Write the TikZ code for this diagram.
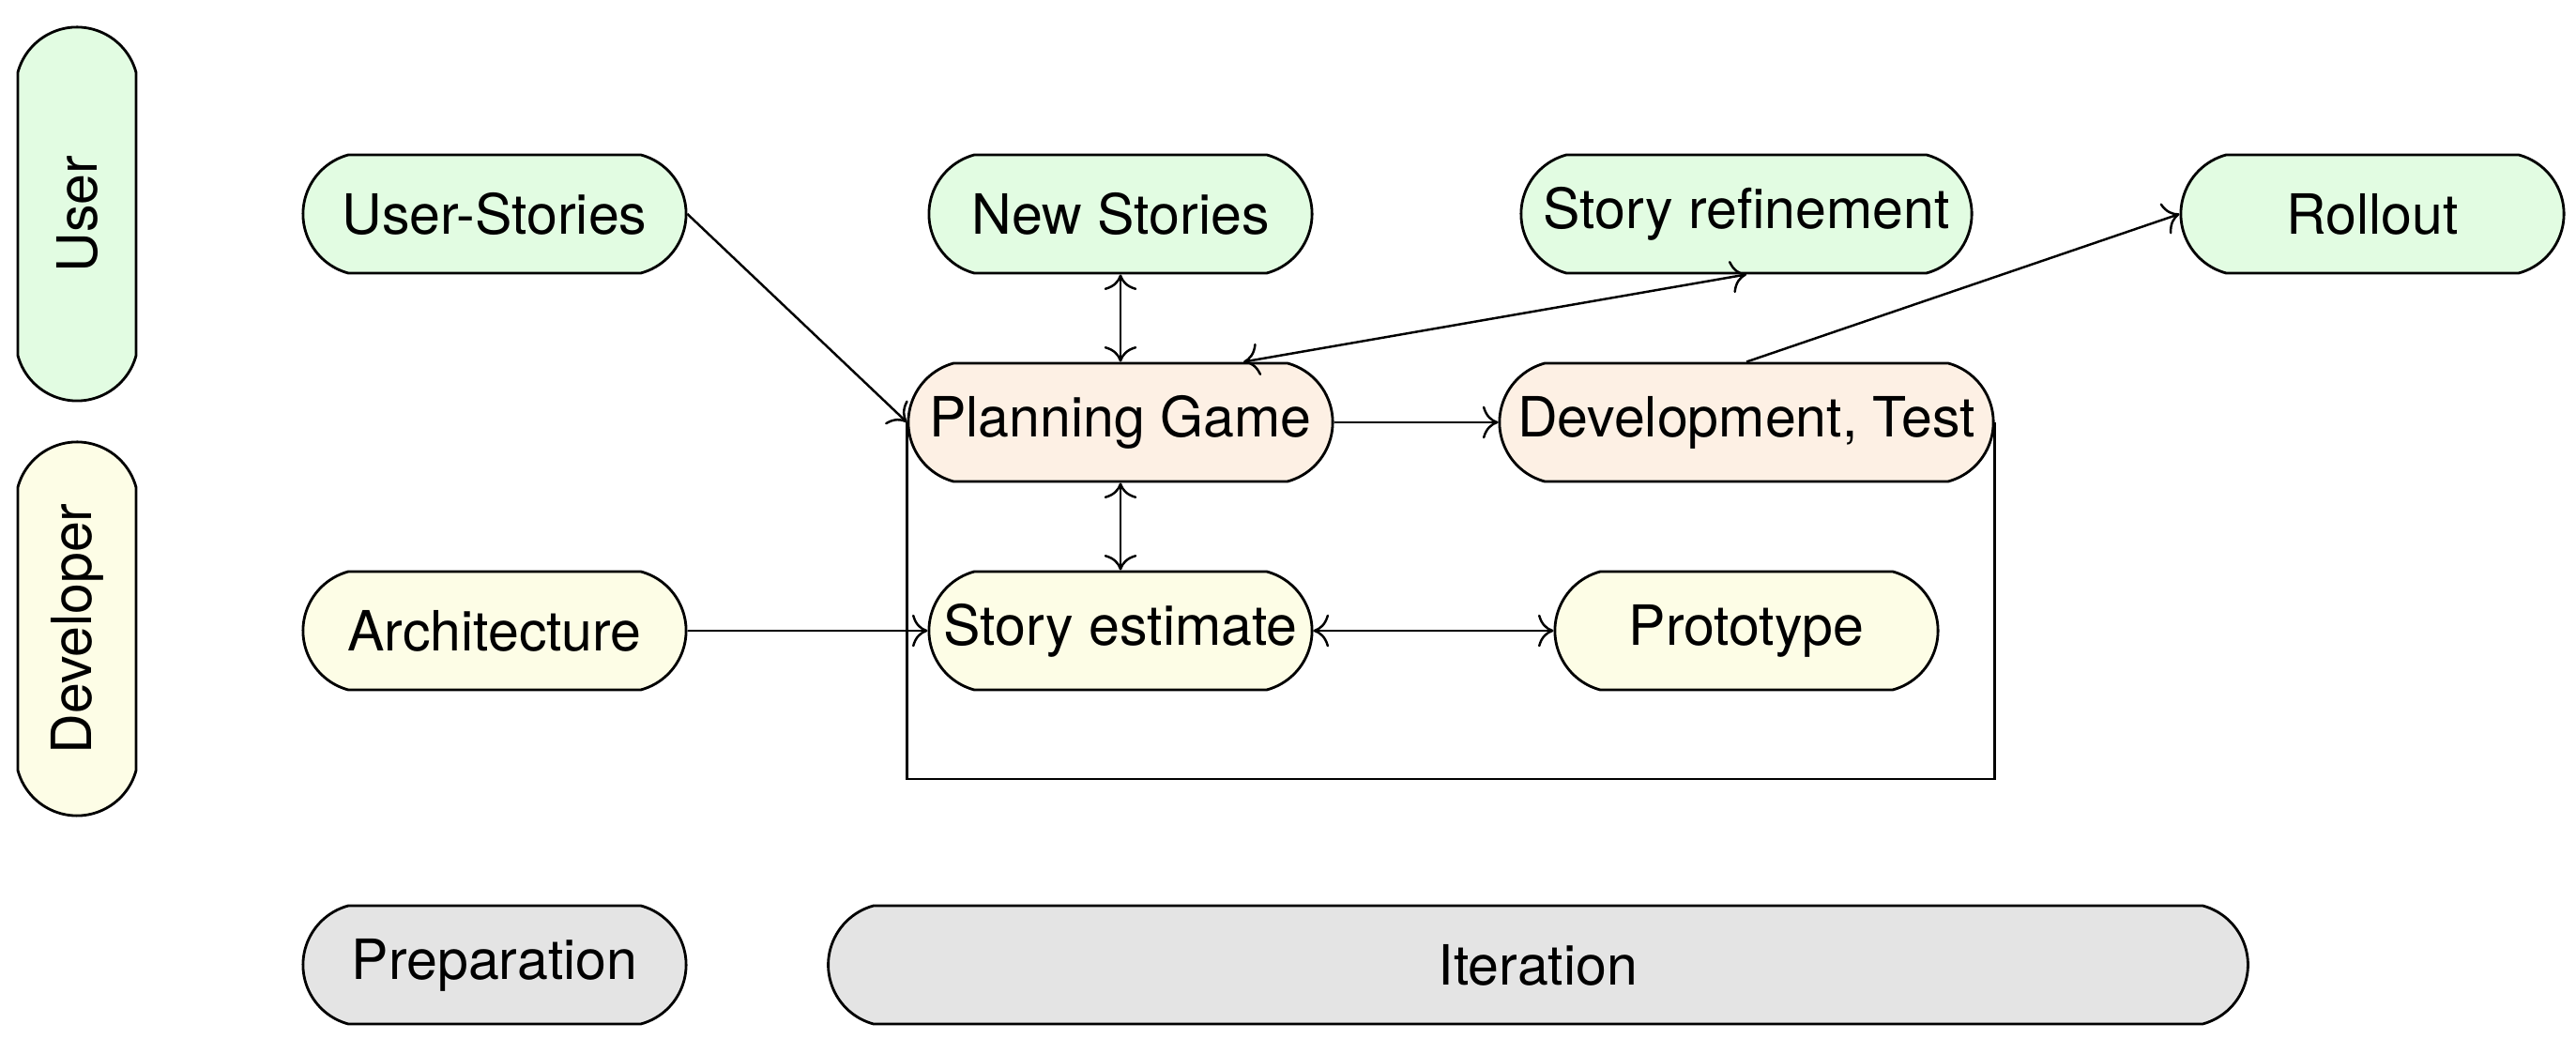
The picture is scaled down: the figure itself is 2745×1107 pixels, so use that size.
\documentclass[tikz,border=0pt]{standalone}
\usepackage{fontspec}
\setmainfont{TeX Gyre Heros}
\usetikzlibrary{shapes.misc,arrows.meta}
\definecolor{ugreen}{RGB}{226,252,226}
\definecolor{dpeach}{RGB}{253,240,228}
\definecolor{dyellow}{RGB}{253,253,230}
\definecolor{pgray}{RGB}{228,228,228}
\tikzset{
  pill/.style={rounded rectangle, rounded rectangle arc length=150, draw=black, line width=0.8pt,
    minimum height=1.26cm, minimum width=4.22cm, inner sep=2pt, font=\fontsize{16.8}{20}\selectfont},
  usr/.style={pill, fill=ugreen},
  dvl/.style={pill, fill=dyellow},
  itr/.style={pill, fill=dpeach},
  phs/.style={pill, fill=pgray},
  conn/.style={line width=0.7pt},
  >={To[scale=1.5]},
}
\begin{document}
\begin{tikzpicture}[x=0.01cm,y=-0.01cm]
\useasboundingbox (0,0) rectangle (2745,1107);
% lanes
\node[usr, rotate=90, minimum width=4.12cm] (lu) at (82,228) {User};
\node[dvl, rotate=90, minimum width=4.12cm] (ld) at (82,670) {Developer};
% user row
\node[usr] (us) at (527,228) {User-Stories};
\node[usr] (ns) at (1194,228) {New Stories};
\node[usr, minimum width=4.94cm] (sr) at (1861,228) {Story refinement};
\node[usr] (ro) at (2528,228) {Rollout};
% iteration row
\node[itr, minimum width=4.66cm] (pg) at (1194,450) {Planning Game};
\node[itr, minimum width=5.40cm] (dt) at (1861,450) {Development, Test};
% developer row
\node[dvl] (ar) at (527,672) {Architecture};
\node[dvl] (se) at (1194,672) {Story estimate};
\node[dvl] (pr) at (1861,672) {Prototype};
% phases
\node[phs] (prep) at (527,1028) {Preparation};
\node[phs, minimum width=15.26cm] (it) at (1639,1028) {Iteration};
% loop
\coordinate (loopb) at (0,830);
\draw[conn] (dt.east) -- (dt.east |- loopb) -| (pg.west);
% connectors
\draw[conn,->] (us.east) -- (pg.west);
\draw[conn,<->] (ns.south) -- (pg.north);
\draw[conn,<->] ([xshift=1.31cm]pg.north) -- (sr.south);
\draw[conn,->] (dt.north) -- (ro.west);
\draw[conn,->] (pg.east) -- (dt.west);
\draw[conn,<->] (pg.south) -- (se.north);
\draw[conn,->] (ar.east) -- (se.west);
\draw[conn,<->] (se.east) -- (pr.west);
\end{tikzpicture}
\end{document}
